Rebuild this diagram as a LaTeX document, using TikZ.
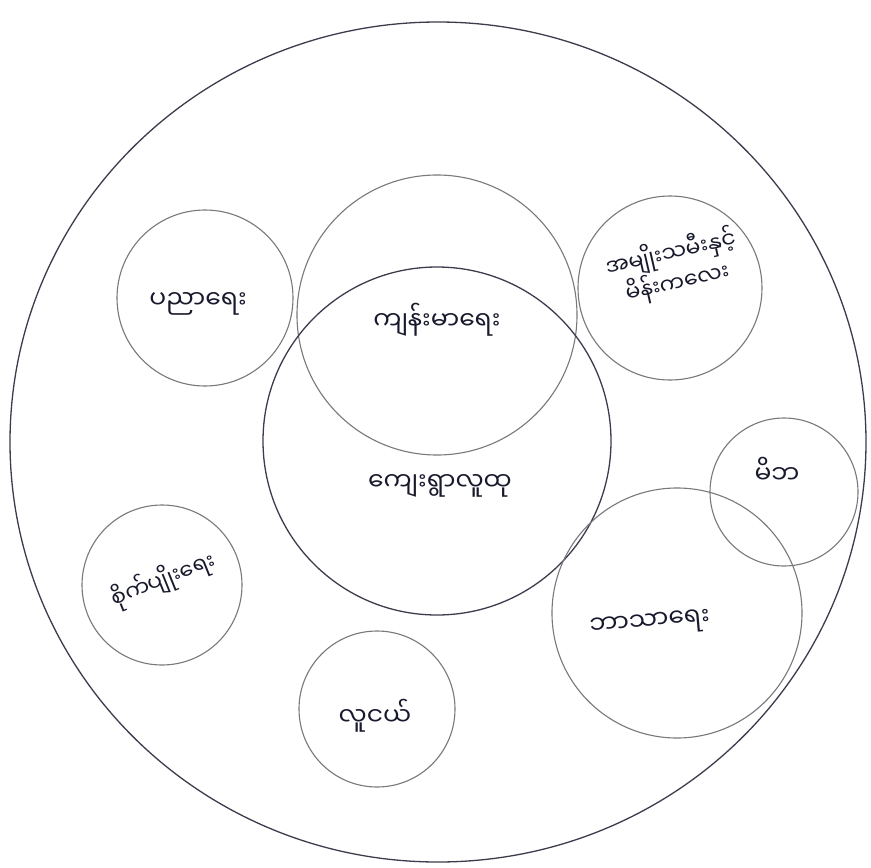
\documentclass[tikz,border=0pt]{standalone}
\usepackage{fontspec}
\usetikzlibrary{shapes.geometric}
\newfontfamily\mmfont[Script=Myanmar]{Noto Sans Myanmar UI}
\definecolor{pencil}{RGB}{120,120,125}
\definecolor{ink}{RGB}{25,25,45}
\tikzset{
  ring/.style={draw=pencil, line width=1.1pt},
  darkring/.style={draw=ink!85, line width=1.3pt},
  lbl/.style={font=\mmfont\fontsize{25}{30}\selectfont, text=ink, align=center, inner sep=1pt},
  smalllbl/.style={font=\mmfont\fontsize{22}{27}\selectfont, text=ink, align=center, inner sep=1pt}
}
\begin{document}
\begin{tikzpicture}[x=1pt,y=-1pt]
\useasboundingbox (0,0) rectangle (871,868);
\fill[white] (0,0) rectangle (871,868);
% outer boundary
\node[darkring, ellipse, minimum width=856pt, minimum height=840pt, inner sep=0pt] (outer) at (438,442) {};
% circles
\node[ring, circle, minimum size=176pt, inner sep=0pt] (edu) at (205,298) {};
\node[ring, circle, minimum size=280pt, inner sep=0pt] (health) at (437,315) {};
\node[darkring, circle, minimum size=348pt, inner sep=0pt] (village) at (437,441) {};
\node[ring, circle, minimum size=184pt, inner sep=0pt] (women) at (670,288) {};
\node[ring, circle, minimum size=148pt, inner sep=0pt] (parents) at (784,492) {};
\node[ring, circle, minimum size=250pt, inner sep=0pt] (religion) at (677,613) {};
\node[ring, circle, minimum size=160pt, inner sep=0pt] (agri) at (162,585) {};
\node[ring, circle, minimum size=156pt, inner sep=0pt] (youth) at (377,709) {};
% labels
\node[lbl] (tedu) at (198,304) {ပညာရေး};
\node[lbl] (thealth) at (437,320) {ကျန်းမာရေး};
\node[lbl] (tvillage) at (440,486) {ကျေးရွာလူထု};
\node[smalllbl, rotate=13] (twomen) at (674,268) {အမျိုးသမီးနှင့်\\မိန်းကလေး};
\node[lbl] (tparents) at (777,470) {မိဘ};
\node[smalllbl, rotate=22] (tagri) at (163,580) {စိုက်ပျိုးရေး};
\node[lbl, rotate=5] (treligion) at (650,625) {ဘာသာရေး};
\node[lbl] (tyouth) at (375,716) {လူငယ်};
\end{tikzpicture}
\end{document}
